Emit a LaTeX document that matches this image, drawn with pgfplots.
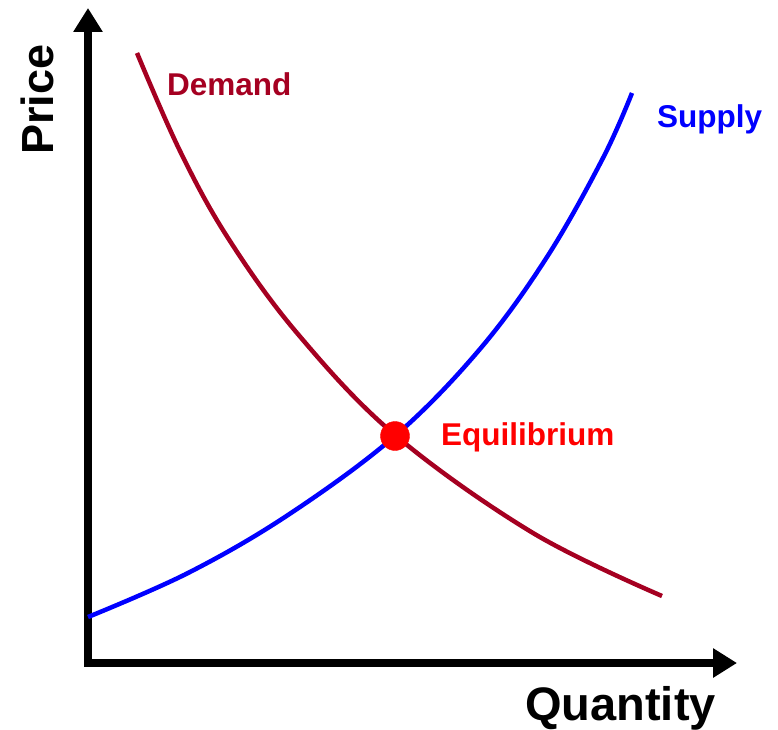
\documentclass[border=0pt]{standalone}
\usepackage{pgfplots}
\pgfplotsset{compat=1.18}
\usepackage{fontspec}
\setmainfont{Liberation Sans}
\usetikzlibrary{arrows.meta}
\definecolor{demandc}{HTML}{A50021}
\definecolor{supplyc}{HTML}{0000FF}
\definecolor{equic}{HTML}{FF0000}
\begin{document}
\begin{tikzpicture}
\begin{axis}[
  scale only axis, width=649pt, height=655pt,
  xmin=0, xmax=649, ymin=0, ymax=655,
  enlargelimits=false,
  axis lines=left,
  xtick=\empty, ytick=\empty,
  axis line style={line width=8pt, line cap=rect, -{Triangle[length=24pt,width=28pt]}},
  clip=false,
]
\path (axis cs:-88,-64) rectangle (axis cs:690,663);
\addplot[demandc, line width=4.5pt, smooth, tension=0.6] coordinates {
(49,610) (92,512) (140,425) (209,330) (307,228) (445,130) (574,67)
};
\addplot[supplyc, line width=4.5pt, smooth, tension=0.6] coordinates {
(0,46) (100,90) (200,148) (307,227) (392,314) (459,406) (515,505) (544,570)
};
\addplot[only marks, mark=*, mark size=14.5pt, mark options={fill=equic, draw=equic}] coordinates {(307,227)};
\node[anchor=base west, inner sep=0pt, text=demandc, font=\fontsize{31.5}{36}\selectfont\bfseries] at (axis cs:79,567) {Demand};
\node[anchor=base west, inner sep=0pt, text=supplyc, font=\fontsize{31.5}{36}\selectfont\bfseries] at (axis cs:569,535) {Supply};
\node[anchor=base west, inner sep=0pt, text=equic, font=\fontsize{31.5}{36}\selectfont\bfseries] at (axis cs:353,218) {Equilibrium};
\node[anchor=base west, inner sep=0pt, text=black, font=\fontsize{47}{52}\selectfont\bfseries] at (axis cs:437,-57) {Quantity};
\node[anchor=base west, inner sep=0pt, rotate=90, text=black, font=\fontsize{45}{50}\selectfont\bfseries] at (axis cs:-34,508) {Price};
\end{axis}
\end{tikzpicture}
\end{document}
